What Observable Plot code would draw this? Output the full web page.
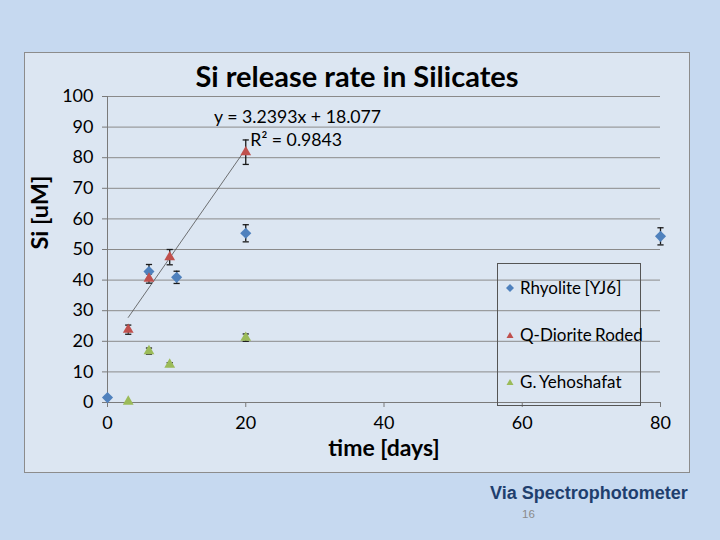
<!DOCTYPE html>
<html>
<head>
<meta charset="utf-8">
<script src="https://cdn.jsdelivr.net/npm/d3@7"></script>
<script src="https://cdn.jsdelivr.net/npm/@observablehq/plot@0.6"></script>
<style>
  html, body { margin: 0; padding: 0; }
  body { width: 720px; height: 540px; background: #c6d9f0; position: relative; overflow: hidden; font-family: Lato, "Open Sans", sans-serif; }
  #chart { position: absolute; left: 24px; top: 52px; width: 664px; height: 419px; background: #dce6f2; border: 1px solid #8c8c8c; }
  #title { position: absolute; left: 0; top: 6px; width: 100%; text-align: center; font: bold 29px Lato, sans-serif; line-height: 34px; color: #000; }
  #plot { position: absolute; left: 0; top: 23px; }
  #legend { position: absolute; left: 472px; top: 210px; width: 142px; height: 141px; border: 1.5px solid #555; }
  .item { position: absolute; left: 0; height: 22px; line-height: 22px; font: 17px Lato, sans-serif; word-spacing: -1px; color: #000; white-space: nowrap; }
  .item svg { position: absolute; left: 7px; top: 6px; }
  .item span { position: absolute; left: 22px; }
  #caption { position: absolute; left: 490px; top: 483px; font: bold 18px "Liberation Sans", Arial, sans-serif; color: #1f3f6e; }
  #page { position: absolute; left: 522px; top: 508px; font: 11.5px "Liberation Sans", Arial, sans-serif; color: #8a8a8a; }
</style>
</head>
<body>
<div id="chart">
  <div id="title">Si release rate in Silicates</div>
  <div id="plot"></div>
  <div id="legend"></div>
</div>
<div id="caption">Via Spectrophotometer</div>
<div id="page">16</div>
<script>
// ---- data ----
const seriesNames = ["Rhyolite [YJ6]", "Q-Diorite Roded", "G. Yehoshafat"];
const seriesColors = ["#4f81bd", "#c0504d", "#9bbb59"];

const rhyoliteDays = [0, 6, 10, 20, 80];
const rhyoliteSi   = [1.6, 42.8, 40.9, 55.3, 54.3];
const rhyoliteErr  = [0, 2.3, 2.0, 2.8, 2.8];

const dioriteDays = [3, 6, 9, 20];
const dioriteSi   = [23.8, 40.5, 47.5, 81.8];
const dioriteErr  = [1.5, 1.5, 2.5, 4.0];

const yehoDays = [3, 6, 9, 20];
const yehoSi   = [0.3, 16.8, 12.4, 21.2];
const yehoErr  = [0, 1.0, 0.6, 1.2];

const trendSlope = 3.2393;
const trendIntercept = 18.077;
const trendDays = [3, 20];
const trendLabel = "y = 3.2393x + 18.077";
const r2Label = "R² = 0.9843";

const xTicks = [0, 20, 40, 60, 80];
const yTicks = [0, 10, 20, 30, 40, 50, 60, 70, 80, 90, 100];

// ---- build tables ----
function rows(days, si, err, s) {
  return days.map((d, i) => ({day: d, si: si[i], err: err[i], series: s}));
}
const rhy = rows(rhyoliteDays, rhyoliteSi, rhyoliteErr, seriesNames[0]);
const dio = rows(dioriteDays, dioriteSi, dioriteErr, seriesNames[1]);
const yeh = rows(yehoDays, yehoSi, yehoErr, seriesNames[2]);
const all = [...rhy, ...dio, ...yeh];
const withErr = all.filter(d => d.err > 0);
const trend = trendDays.map(x => ({day: x, si: trendSlope * x + trendIntercept}));

const capSymbol = {
  draw(ctx, size) {
    const r = Math.sqrt(size) / 2;
    ctx.moveTo(-r, 0);
    ctx.lineTo(r, 0);
  }
};

const plot = Plot.plot({
  width: 664,
  height: 396,
  marginLeft: 82,
  marginRight: 29,
  marginTop: 20,
  marginBottom: 70,
  style: {background: "transparent", fontFamily: "Lato, sans-serif", fontSize: "18px", color: "#000"},
  x: {domain: [0, 80]},
  y: {domain: [0, 100]},
  marks: [
    Plot.gridY(yTicks, {stroke: "#8a8a8a", strokeOpacity: 1, strokeWidth: 1}),
    Plot.axisY({ticks: yTicks, tickSize: 5, tickPadding: 9, fontSize: 18, stroke: "#7a7a7a", label: null}),
    Plot.axisX({ticks: xTicks, tickSize: 5, tickPadding: 9, fontSize: 18, stroke: "#7a7a7a", label: null}),
    Plot.ruleX([0], {stroke: "#7a7a7a"}),
    Plot.ruleY([0], {stroke: "#7a7a7a"}),
    Plot.text(["Si [uM]"], {frameAnchor: "left", rotate: -90, dx: -67, fontSize: 23.5, fontWeight: "bold", fill: "#000"}),
    Plot.text(["time [days]"], {frameAnchor: "bottom", dy: 53, fontSize: 23, fontWeight: "bold", fill: "#000"}),
    Plot.line(trend, {x: "day", y: "si", stroke: "#505050", strokeWidth: 0.8}),
    Plot.ruleX(withErr, {x: "day", y1: d => d.si - d.err, y2: d => d.si + d.err, stroke: "#1a1a1a", strokeWidth: 1.3}),
    Plot.dot(withErr, {x: "day", y: d => d.si - d.err, symbol: capSymbol, r: 3.5, stroke: "#1a1a1a", strokeWidth: 1.3, fill: "none"}),
    Plot.dot(withErr, {x: "day", y: d => d.si + d.err, symbol: capSymbol, r: 3.5, stroke: "#1a1a1a", strokeWidth: 1.3, fill: "none"}),
    Plot.dot(rhy, {x: "day", y: "si", symbol: "diamond2", r: 5, fill: seriesColors[0], stroke: "none"}),
    Plot.dot(dio, {x: "day", y: "si", symbol: "triangle", r: 4, fill: seriesColors[1], stroke: "none"}),
    Plot.dot(yeh, {x: "day", y: "si", symbol: "triangle", r: 4, fill: seriesColors[2], stroke: "none"}),
    Plot.text([trendLabel], {x: 27.5, y: 93.2, fontSize: 17.7, fill: "#000"}),
    Plot.text([r2Label], {x: 27.3, y: 85.6, fontSize: 17.7, fill: "#000"})
  ]
});
document.getElementById("plot").appendChild(plot);

// ---- legend ----
const legend = document.getElementById("legend");
const rowTops = [13, 60, 107];
const shapes = [
  c => `<polygon points="5,1 9,5 5,9 1,5" fill="${c}"/>`,
  c => `<polygon points="5,2 8.5,8 1.5,8" fill="${c}"/>`,
  c => `<polygon points="5,2 8.5,8 1.5,8" fill="${c}"/>`
];
seriesNames.forEach((name, i) => {
  const div = document.createElement("div");
  div.className = "item";
  div.style.top = rowTops[i] + "px";
  div.innerHTML = `<svg width="10" height="10">${shapes[i](seriesColors[i])}</svg><span>${name}</span>`;
  legend.appendChild(div);
});
</script>
</body>
</html>
